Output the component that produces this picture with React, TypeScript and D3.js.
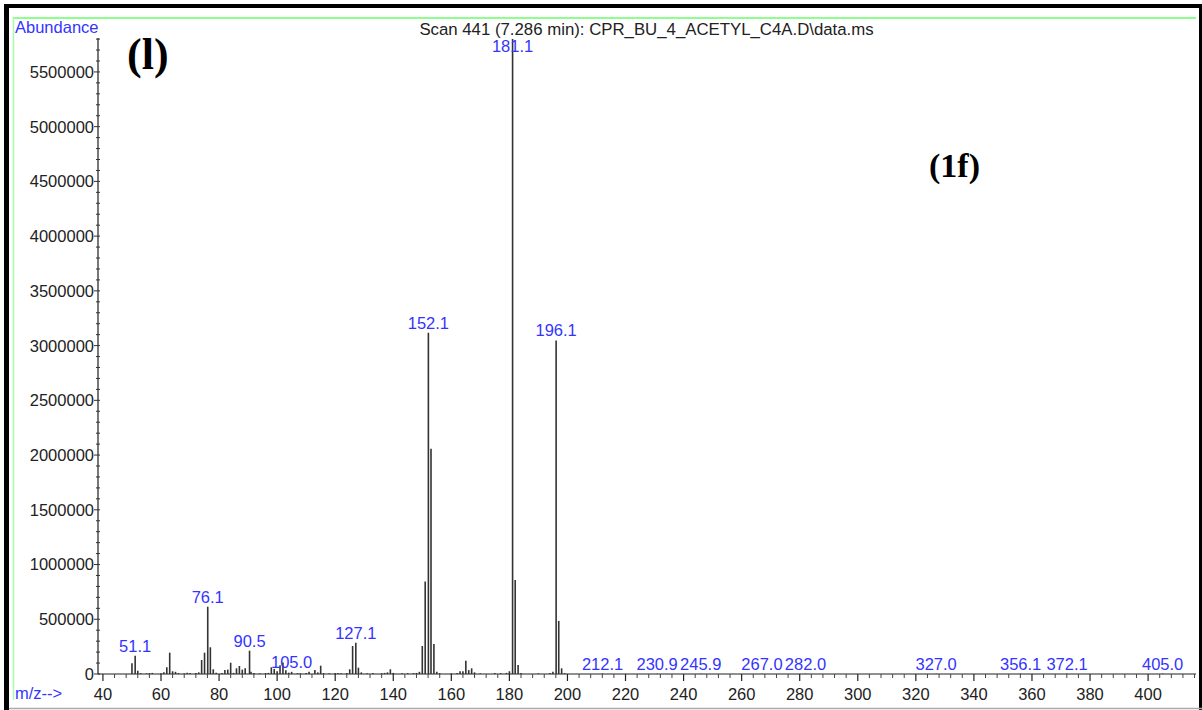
import React from "react";
import * as d3 from "d3";

// ---------- data ----------
const peakMz: number[] = [
  50, 51.1, 52, 53, 55, 56, 57, 60, 61, 62, 63, 64, 65, 66, 68, 69, 70, 72, 73, 74, 75, 76.1, 77, 78, 79,
  81, 82, 83, 84, 85, 86, 87, 88, 89, 90.5, 91, 92, 94, 96, 97, 98, 99, 100, 101, 102, 103, 104, 105,
  107, 108, 110, 111, 113, 114, 115, 116, 118, 120, 121, 122, 124, 125, 126, 127.1, 128, 129, 131, 133,
  136, 137, 138, 139, 140, 143, 145, 147, 148, 149, 150, 151, 152.1, 153, 154, 155, 156, 160, 162, 163,
  164, 165, 166, 167, 168, 170, 175, 177, 179, 180, 181.1, 182, 183, 184, 190, 194, 195, 196.1, 197, 198,
  199, 212.1, 230.9, 245.9, 267.0, 282.0, 327.0, 356.1, 372.1, 405.0,
];
const peakAbundance: number[] = [
  98000, 167000, 30000, 8000, 6000, 8000, 10000, 6000, 15000, 61000, 195000, 25000, 20000, 8000, 6000, 12000, 10000, 8000, 15000, 128000, 195000, 615000, 244000, 43000, 12000,
  10000, 36000, 40000, 103000, 10000, 52000, 73000, 40000, 52000, 213000, 20000, 8000, 6000, 8000, 10000, 61000, 46000, 25000, 79000, 105000, 35000, 12000, 20000,
  8000, 6000, 10000, 20000, 36000, 15000, 76000, 8000, 6000, 8000, 10000, 6000, 8000, 43000, 256000, 286000, 58000, 15000, 6000, 8000,
  6000, 10000, 15000, 43000, 10000, 6000, 8000, 8000, 10000, 20000, 256000, 844000, 3117000, 2057000, 274000, 20000, 8000, 6000, 10000, 25000,
  25000, 122000, 36000, 52000, 15000, 6000, 8000, 8000, 10000, 25000, 5800000, 859000, 82000, 8000, 6000, 8000, 20000, 3047000, 485000, 52000,
  8000, 4000, 3000, 3000, 3000, 3000, 3000, 3000, 3000, 3000,
];
const labelMz: number[] = [51.1, 76.1, 90.5, 105.0, 127.1, 152.1, 181.1, 196.1, 212.1, 230.9, 245.9, 267.0, 282.0, 327.0, 356.1, 372.1, 405.0];
const labelText: string[] = ["51.1", "76.1", "90.5", "105.0", "127.1", "152.1", "181.1", "196.1", "212.1", "230.9", "245.9", "267.0", "282.0", "327.0", "356.1", "372.1", "405.0"];
const labelAbundance: number[] = [167000, 615000, 213000, 20000, 286000, 3117000, 5800000, 3047000, 4000, 3000, 3000, 3000, 3000, 3000, 3000, 3000, 3000];

const xMajorTicks: number[] = d3.range(40, 401, 20);
const xMinorTicks: number[] = d3.range(40, 417, 4).filter((v) => v % 20 !== 0);
const yMajorTicks: number[] = d3.range(0, 5500001, 500000);
const yMinorTicks: number[] = d3.range(0, 5800001, 100000).filter((v) => v % 500000 !== 0);

const title = "Scan 441 (7.286 min): CPR_BU_4_ACETYL_C4A.D\\data.ms";

// ---------- layout ----------
const W = 1202;
const H = 710;
const X0 = 98;
const X1 = 1196;
const Y0 = 674;
const YTOP = 38;
const SANS = "'Liberation Sans', Arial, sans-serif";
const SERIF = "'Liberation Serif', 'Times New Roman', serif";
const BLUE = "#3434ff";
const FS = 16.5;

export default function App() {
  const x = d3.scaleLinear().domain([38.3, 416.5]).range([X0, X1]);
  const y = d3.scaleLinear().domain([0, 5810000]).range([Y0, YTOP]);

  return (
    <svg
      width={W}
      height={H}
      viewBox={`0 0 ${W} ${H}`}
      style={{ position: "absolute", left: 0, top: 0, background: "#fff" }}
    >
      <rect x={0} y={0} width={W} height={H} fill="#fff" />
      {/* outer frame */}
      <rect x={4} y={4} width={W - 4} height={4} fill="#000" />
      <rect x={4} y={4} width={5} height={H - 4} fill="#000" />
      <rect x={1199} y={4} width={3} height={H - 4} fill="#000" />
      <line x1={9} x2={1202} y1={708.5} y2={708.5} stroke="#aaa" strokeWidth={1.5} />
      {/* green frame */}
      <line x1={13} x2={1196} y1={18} y2={18} stroke="#66ff66" strokeWidth={1.5} />
      <line x1={13.5} x2={13.5} y1={18} y2={700} stroke="#aaffaa" strokeWidth={1.5} />

      {/* title */}
      <text x={646.5} y={35} textAnchor="middle" fontFamily={SANS} fontSize={16.8} fill="#222">
        {title}
      </text>
      <text x={15} y={33} fontFamily={SANS} fontSize={FS} fill={BLUE}>Abundance</text>
      <text x={15} y={699} fontFamily={SANS} fontSize={FS} fill={BLUE}>m/z--&gt;</text>

      {/* y axis */}
      <line x1={X0} x2={X0} y1={YTOP} y2={Y0} stroke="#777" strokeWidth={2} />
      {yMinorTicks.map((v) => (
        <line key={"ym" + v} x1={X0 - 2} x2={X0 + 2} y1={y(v)} y2={y(v)} stroke="#333" strokeWidth={1} />
      ))}
      {yMajorTicks.map((v) => (
        <g key={"yM" + v}>
          <line x1={X0 - 4} x2={X0 + 2} y1={y(v)} y2={y(v)} stroke="#333" strokeWidth={1} />
          <text x={94} y={y(v)} dy="0.36em" textAnchor="end" fontFamily={SANS} fontSize={FS} fill="#222">
            {v}
          </text>
        </g>
      ))}

      {/* x axis */}
      <line x1={X0} x2={X1} y1={Y0} y2={Y0} stroke="#222" strokeWidth={1.2} />
      {xMinorTicks.map((v) => (
        <line key={"xm" + v} x1={x(v)} x2={x(v)} y1={Y0} y2={Y0 + 4} stroke="#444" strokeWidth={1} />
      ))}
      {xMajorTicks.map((v) => (
        <g key={"xM" + v}>
          <line x1={x(v)} x2={x(v)} y1={Y0} y2={Y0 + 7} stroke="#222" strokeWidth={1.2} />
          <text x={x(v)} y={700} textAnchor="middle" fontFamily={SANS} fontSize={FS} fill="#222">
            {v}
          </text>
        </g>
      ))}

      {/* bars */}
      {peakMz.map((m, i) => (
        <line
          key={"p" + i}
          x1={x(m)}
          x2={x(m)}
          y1={Y0}
          y2={y(peakAbundance[i])}
          stroke="#333"
          strokeWidth={1.6}
        />
      ))}

      {/* peak labels */}
      {labelMz.map((m, i) => (
        <text
          key={"l" + i}
          x={x(m)}
          y={Math.max(52, y(labelAbundance[i]) - 4)}
          textAnchor="middle"
          fontFamily={SANS}
          fontSize={FS}
          fill={BLUE}
        >
          {labelText[i]}
        </text>
      ))}

      {/* annotations */}
      <text x={127} y={69} fontFamily={SERIF} fontWeight="bold" fontSize={44} fill="#000">(l)</text>
      <text x={929} y={177} fontFamily={SERIF} fontWeight="bold" fontSize={34} fill="#000">(1f)</text>
    </svg>
  );
}
